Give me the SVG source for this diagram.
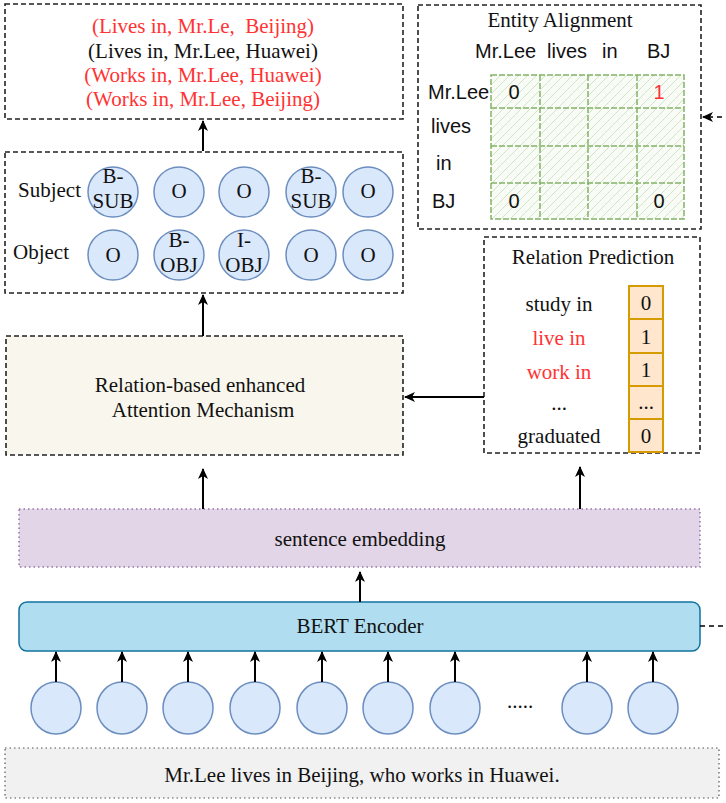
<svg xmlns="http://www.w3.org/2000/svg" width="726" height="803" viewBox="0 0 726 803">
<style>
.serif{font-family:"Liberation Serif","Times New Roman",serif;font-size:21px;fill:#111}
.sans{font-family:"Liberation Sans",Arial,sans-serif;font-size:20px;fill:#111}
.mid{text-anchor:middle}
.red{fill:#ff3333}
.dbox{fill:#fff;stroke:#222;stroke-width:1.6;stroke-dasharray:5 3}
.tok{fill:#dae8fc;stroke:#6c8ebf;stroke-width:1.5}
.cell{fill:#ffe6cc;stroke:#d79b00;stroke-width:2}
.arr{fill:none;stroke:#000;stroke-width:2;marker-end:url(#ah)}
.grid{fill:none;stroke:#82b366;stroke-width:1.5;stroke-dasharray:6 2}
</style>
<defs>
<marker id="ah" markerWidth="12" markerHeight="10" refX="10" refY="5" orient="auto" markerUnits="userSpaceOnUse">
<path d="M0,0 L11,5 L0,10 L3,5 z" fill="#000"/>
</marker>
<pattern id="hatch" width="9" height="9" patternUnits="userSpaceOnUse">
<rect width="9" height="9" fill="#f8fbf6"/>
<path d="M-1,1 L1,-1 M0,9 L9,0 M8,10 L10,8" stroke="#cfe6c4" stroke-width="1"/>
</pattern>
</defs>

<g id="triples">
<rect class="dbox" x="5" y="4" width="398" height="115"/>
<text class="serif mid red" x="203" y="33" xml:space="preserve">(Lives in, Mr.Le,  Beijing)</text>
<text class="serif mid" x="203" y="58">(Lives in, Mr.Lee, Huawei)</text>
<text class="serif mid red" x="203" y="82">(Works in, Mr.Lee, Huawei)</text>
<text class="serif mid red" x="203" y="106">(Works in, Mr.Lee, Beijing)</text>
</g>

<g id="entity-alignment">
<rect class="dbox" x="418" y="5" width="283" height="224"/>
<text class="serif mid" x="560" y="27">Entity Alignment</text>
<text class="sans" x="475" y="58">Mr.Lee</text>
<text class="sans" x="547" y="58">lives</text>
<text class="sans" x="602" y="58">in</text>
<text class="sans" x="647" y="58">BJ</text>
<rect x="491" y="75" width="193" height="144" fill="url(#hatch)"/>
<rect class="grid" x="491" y="75" width="193" height="144"/>
<path class="grid" d="M540,75 V219 M588,75 V219 M637,75 V219 M491,108 H684 M491,146 H684 M491,183 H684"/>
<text class="sans" x="428" y="99">Mr.Lee</text>
<text class="sans" x="431" y="133">lives</text>
<text class="sans" x="436" y="170">in</text>
<text class="sans" x="432" y="208">BJ</text>
<text class="sans mid" x="514" y="99">0</text>
<text class="sans mid red" x="659" y="99">1</text>
<text class="sans mid" x="514" y="208">0</text>
<text class="sans mid" x="659" y="208">0</text>
</g>

<g id="tagging">
<rect class="dbox" x="5" y="152" width="398" height="141"/>
<text class="serif" x="18" y="197">Subject</text>
<text class="serif" x="13" y="259">Object</text>
<circle class="tok" cx="113" cy="192" r="25"/>
<circle class="tok" cx="179" cy="192" r="25"/>
<circle class="tok" cx="244" cy="192" r="25"/>
<circle class="tok" cx="311" cy="192" r="25"/>
<circle class="tok" cx="368" cy="192" r="25"/>
<circle class="tok" cx="113" cy="255" r="25"/>
<circle class="tok" cx="179" cy="255" r="25"/>
<circle class="tok" cx="244" cy="255" r="25"/>
<circle class="tok" cx="311" cy="255" r="25"/>
<circle class="tok" cx="368" cy="255" r="25"/>
<text class="serif mid" x="113" y="183">B-</text>
<text class="serif mid" x="113" y="208">SUB</text>
<text class="serif mid" x="179" y="198">O</text>
<text class="serif mid" x="244" y="198">O</text>
<text class="serif mid" x="311" y="183">B-</text>
<text class="serif mid" x="311" y="208">SUB</text>
<text class="serif mid" x="368" y="198">O</text>
<text class="serif mid" x="113" y="262">O</text>
<text class="serif mid" x="179" y="247">B-</text>
<text class="serif mid" x="179" y="272">OBJ</text>
<text class="serif mid" x="244" y="247">I-</text>
<text class="serif mid" x="244" y="272">OBJ</text>
<text class="serif mid" x="311" y="262">O</text>
<text class="serif mid" x="368" y="262">O</text>
</g>

<g id="relation-prediction">
<rect class="dbox" x="484" y="237" width="216" height="216"/>
<text class="serif mid" x="593" y="264">Relation Prediction</text>
<text class="serif mid" x="559" y="311">study in</text>
<text class="serif mid red" x="559" y="345">live in</text>
<text class="serif mid red" x="559" y="379">work in</text>
<text class="serif mid" x="559" y="410">...</text>
<text class="serif mid" x="559" y="443">graduated</text>
<rect class="cell" x="629" y="286" width="34" height="33"/>
<rect class="cell" x="629" y="319" width="34" height="34"/>
<rect class="cell" x="629" y="353" width="34" height="33"/>
<rect class="cell" x="629" y="386" width="34" height="33"/>
<rect class="cell" x="629" y="419" width="34" height="33"/>
<text class="serif mid" x="646" y="310">0</text>
<text class="serif mid" x="646" y="344">1</text>
<text class="serif mid" x="646" y="377">1</text>
<text class="serif mid" x="646" y="409">...</text>
<text class="serif mid" x="646" y="443">0</text>
</g>

<g id="attention">
<rect x="6" y="336" width="397" height="119" fill="#f9f7ed" stroke="#222" stroke-width="1.6" stroke-dasharray="5 3"/>
<text class="serif mid" x="200" y="392">Relation-based enhanced</text>
<text class="serif mid" x="203" y="417">Attention Mechanism</text>
</g>

<g id="sentence-embedding">
<rect x="19" y="509" width="681" height="58" fill="#e1d5e7" stroke="#9673a6" stroke-width="1.5" stroke-dasharray="1.5 3"/>
<text class="serif mid" x="360" y="546">sentence embedding</text>
</g>

<g id="bert">
<rect x="19" y="602" width="681" height="49" rx="8" fill="#b1ddf0" stroke="#10739e" stroke-width="1.5"/>
<text class="serif mid" x="360" y="633">BERT Encoder</text>
</g>

<g id="tokens">
<ellipse class="tok" cx="56" cy="708" rx="25" ry="26"/>
<ellipse class="tok" cx="122" cy="708" rx="25" ry="26"/>
<ellipse class="tok" cx="188" cy="708" rx="25" ry="26"/>
<ellipse class="tok" cx="255" cy="708" rx="25" ry="26"/>
<ellipse class="tok" cx="322" cy="708" rx="25" ry="26"/>
<ellipse class="tok" cx="388" cy="708" rx="25" ry="26"/>
<ellipse class="tok" cx="455" cy="708" rx="25" ry="26"/>
<ellipse class="tok" cx="587" cy="708" rx="25" ry="26"/>
<ellipse class="tok" cx="653" cy="708" rx="25" ry="26"/>
<text class="serif mid" x="520" y="708">.....</text>
</g>

<g id="input-sentence">
<rect x="5" y="748" width="714" height="50" fill="#f1f1f1" stroke="#555" stroke-width="1.2" stroke-dasharray="1.5 3"/>
<text class="serif mid" x="362" y="782">Mr.Lee lives in Beijing, who works in Huawei.</text>
</g>

<g id="connectors">
<path class="arr" d="M203,151 V121"/>
<path class="arr" d="M203,336 V295"/>
<path class="arr" d="M203,509 V469"/>
<path class="arr" d="M580,509 V467"/>
<path class="arr" d="M360,602 V572"/>
<path class="arr" d="M484,397 H405"/>
<path d="M700,626 H740 V117 H703" fill="none" stroke="#000" stroke-width="1.5" stroke-dasharray="5 4" marker-end="url(#ah)"/>
<path class="arr" d="M56,682 V652"/>
<path class="arr" d="M122,682 V652"/>
<path class="arr" d="M188,682 V652"/>
<path class="arr" d="M255,682 V652"/>
<path class="arr" d="M322,682 V652"/>
<path class="arr" d="M388,682 V652"/>
<path class="arr" d="M455,682 V652"/>
<path class="arr" d="M587,682 V652"/>
<path class="arr" d="M653,682 V652"/>
</g>
</svg>
